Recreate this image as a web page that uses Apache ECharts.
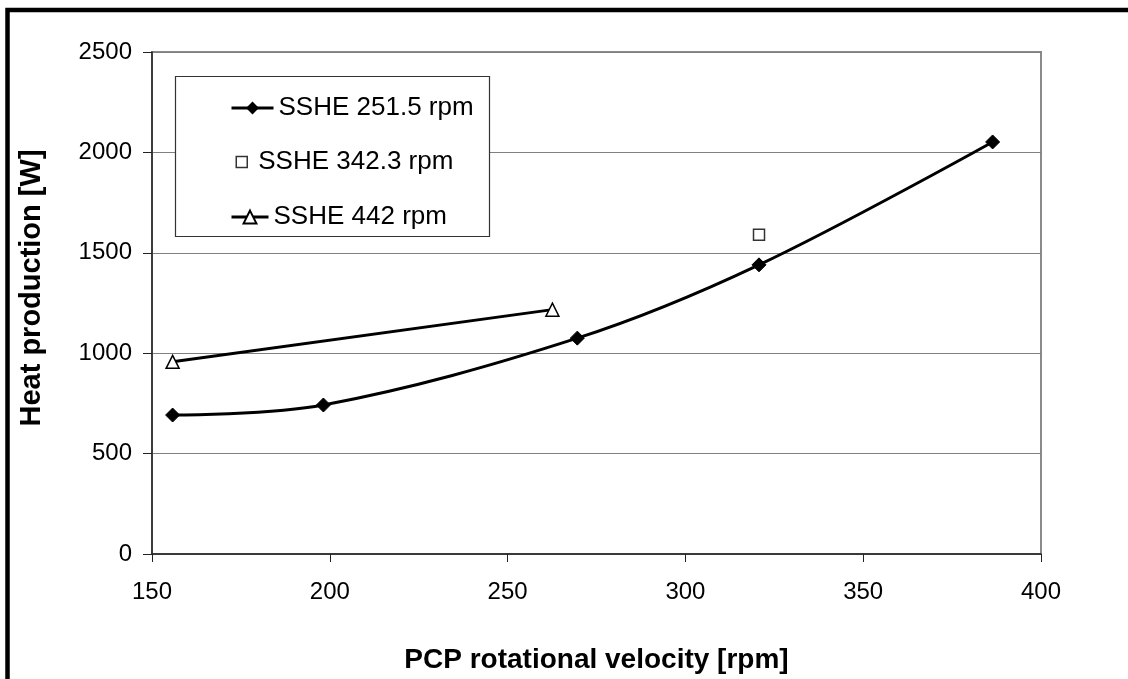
<!DOCTYPE html>
<html>
<head>
<meta charset="utf-8">
<script src="https://cdn.jsdelivr.net/npm/echarts@6/dist/echarts.min.js"></script>
<style>
html,body{margin:0;padding:0;background:#fff;}
#c{width:1128px;height:679px;}
</style>
</head>
<body>
<div id="c"></div>
<script>
// Data
var seriesNames = ['SSHE 251.5 rpm', 'SSHE 342.3 rpm', 'SSHE 442 rpm'];
var sshe2515 = [[155.8, 692], [198.2, 742], [269.6, 1075], [320.7, 1440], [386.4, 2052]];
var sshe3423 = [[320.7, 1590]];
var sshe442 = [[155.8, 957], [262.6, 1217]];
var xTicks = [150, 200, 250, 300, 350, 400];
var yTicks = [0, 500, 1000, 1500, 2000, 2500];
var xTitle = 'PCP rotational velocity [rpm]';
var yTitle = 'Heat production [W]';

var FONT = '"Liberation Sans", Arial, sans-serif';
function legendRow(name, left, top, extra) {
  var o = {
    z: 4, orient: 'vertical', left: left, top: top,
    itemWidth: 42, itemHeight: 16,
    textStyle: {fontFamily: FONT, fontSize: 26, color: '#000', lineHeight: 26},
    lineStyle: {width: 3, color: '#000'},
    data: [name]
  };
  for (var k in extra) o[k] = extra[k];
  return o;
}
var chart = echarts.init(document.getElementById('c'), null, {renderer: 'canvas'});
chart.setOption({
  backgroundColor: '#fff',
  animation: false,
  textStyle: {fontFamily: FONT, color: '#000'},
  grid: {left: 152, right: 87, top: 52, bottom: 117, show: true, borderColor: '#8a8a8a', borderWidth: 2, backgroundColor: 'transparent'},
  graphic: [
    {type: 'rect', z: 100, silent: true, shape: {x: 7.5, y: 10, width: 1300, height: 900},
     style: {fill: 'none', stroke: '#000', lineWidth: 4.5}},
    {type: 'rect', z: 3, silent: true, shape: {x: 175.5, y: 76.5, width: 314, height: 160},
     style: {fill: '#fff', stroke: '#333', lineWidth: 1.2}}
  ],
  legend: [
    legendRow(seriesNames[0], 225, 90),
    legendRow(seriesNames[1], 230.5, 144, {icon: 'rect', itemWidth: 11, itemHeight: 11,
      textStyle: {fontFamily: FONT, fontSize: 26, color: '#000', lineHeight: 26, padding: [0, 0, 0, 6]},
      itemStyle: {color: '#fff', borderColor: '#000', borderWidth: 1.5}}),
    legendRow(seriesNames[2], 225, 199, {itemWidth: 37})
  ],
  xAxis: {
    type: 'value', min: xTicks[0], max: xTicks[xTicks.length - 1], interval: 50,
    name: xTitle, nameLocation: 'middle', nameGap: 92,
    nameTextStyle: {fontFamily: FONT, fontSize: 28, fontWeight: 'bold', color: '#000'},
    axisLine: {lineStyle: {color: '#222', width: 1.5}},
    axisTick: {show: true, length: 8, lineStyle: {color: '#222', width: 1}},
    axisLabel: {fontFamily: FONT, fontSize: 24, color: '#000', margin: 26, formatter: function (v) { return String(v); }},
    splitLine: {show: false}
  },
  yAxis: {
    type: 'value', min: yTicks[0], max: yTicks[yTicks.length - 1], interval: 500,
    name: yTitle, nameLocation: 'middle', nameGap: 106,
    nameTextStyle: {fontFamily: FONT, fontSize: 29, fontWeight: 'bold', color: '#000', padding: [0, 0, 0, 30]},
    axisLine: {show: true, lineStyle: {color: '#222', width: 1.5}},
    axisTick: {show: true, length: 9, lineStyle: {color: '#222', width: 1}},
    axisLabel: {fontFamily: FONT, fontSize: 24, color: '#000', margin: 20, formatter: function (v) { return String(v); }},
    splitLine: {show: true, lineStyle: {color: '#808080', width: 1.2}}
  },
  series: [
    {name: seriesNames[0], type: 'line', data: sshe2515, smooth: 0.35,
     symbol: 'diamond', symbolSize: 14, showAllSymbol: true,
     lineStyle: {color: '#000', width: 3}, itemStyle: {color: '#000', borderColor: '#000'}},
    {name: seriesNames[1], type: 'scatter', data: sshe3423,
     symbol: 'rect', symbolSize: 11,
     itemStyle: {color: '#fff', borderColor: '#000', borderWidth: 1.5}},
    {name: seriesNames[2], type: 'line', data: sshe442,
     symbol: 'triangle', symbolSize: 13, showAllSymbol: true,
     lineStyle: {color: '#000', width: 3}, itemStyle: {color: '#fff', borderColor: '#000', borderWidth: 1.5}}
  ]
});
</script>
</body>
</html>
